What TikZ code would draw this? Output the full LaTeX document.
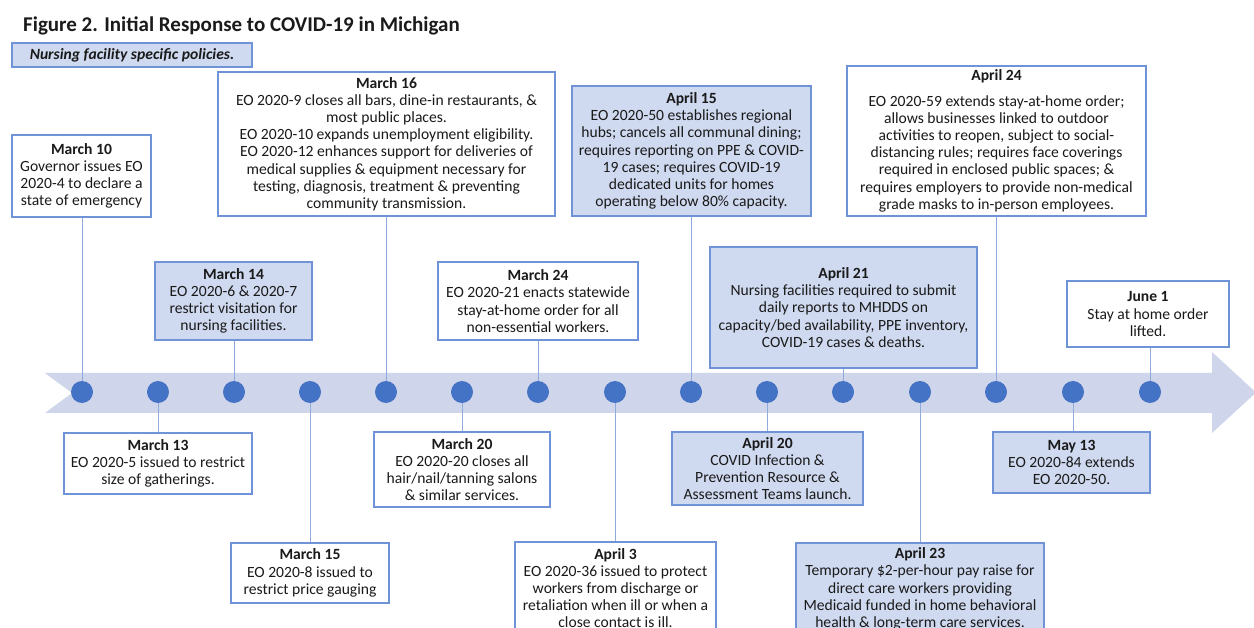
\documentclass[tikz,border=0pt]{standalone}
\usepackage{fontspec}
\setmainfont{Carlito}
\definecolor{bord}{HTML}{6F93D6}
\definecolor{conn}{HTML}{8FAADC}
\definecolor{boxfill}{HTML}{CFD9EF}
\definecolor{bandc}{HTML}{CFD5EA}
\definecolor{dotc}{HTML}{4472C4}
\definecolor{txt}{HTML}{1A1A1A}
\tikzset{
  evbox/.style={draw=bord, line width=1.3pt, align=center, inner sep=0pt, font=\fontsize{15.6}{17.2}\selectfont, text=txt},
  nurse/.style={evbox, fill=boxfill},
  plainbox/.style={evbox, fill=white},
  conline/.style={draw=conn, line width=1pt},
  tdot/.style={circle, fill=dotc, minimum size=22pt, inner sep=0pt},
}
\newcommand\Ebox[7]{\node[#2, minimum width={#5-#3}, minimum height={#6-#4}] (#1) at ({(#3+#5)/2},{(#4+#6)/2}) {#7};}
\begin{document}
\begin{tikzpicture}[x=1pt,y=-1pt]
\clip (0,0) rectangle (1254,628);
\fill[white] (0,0) rectangle (1254,628);
% title
\node[anchor=base west, font=\fontsize{21}{24}\selectfont\bfseries, text=txt, inner sep=0pt] (title) at (23,31.5) {Figure 2. Initial Response to COVID-19 in Michigan};
\Ebox{legend}{nurse}{12}{43}{252}{67}{\bfseries\itshape Nursing facility specific policies.}
% band arrow
\fill[bandc] (45,373) -- (1212,373) -- (1212,352) -- (1256,392.5) -- (1212,433) -- (1212,413) -- (45,413) -- (72,393) -- cycle;
% dot positions
\foreach \i/\x in {0/82,1/158,2/234,3/310,4/386,5/462,6/538,7/615,8/691,9/767,10/843,11/920,12/996,13/1073,14/1150}
  \coordinate (p\i) at (\x,392);
% boxes above
\Ebox{m10}{plainbox}{12}{135}{151}{217}{\textbf{March 10}\\Governor issues EO\\2020-4 to declare a\\state of emergency}
\Ebox{m16}{plainbox}{218}{72}{555}{216}{\textbf{March 16}\\EO 2020-9 closes all bars, dine-in restaurants, \&\\most public places.\\EO 2020-10 expands unemployment eligibility.\\EO 2020-12 enhances support for deliveries of\\medical supplies \& equipment necessary for\\testing, diagnosis, treatment \& preventing\\community transmission.}
\Ebox{m14}{nurse}{155}{262}{312}{340}{\textbf{March 14}\\EO 2020-6 \& 2020-7\\restrict visitation for\\nursing facilities.}
\Ebox{m24}{plainbox}{438}{262}{638}{340}{\textbf{March 24}\\EO 2020-21 enacts statewide\\stay-at-home order for all\\non-essential workers.}
\Ebox{a15}{nurse}{572}{86}{811}{216}{\textbf{April 15}\\EO 2020-50 establishes regional\\hubs; cancels all communal dining;\\requires reporting on PPE \& COVID-\\19 cases; requires COVID-19\\dedicated units for homes\\operating below 80\% capacity.}
\Ebox{a24}{plainbox}{847}{66}{1146}{216}{\textbf{April 24}\\[8pt]EO 2020-59 extends stay-at-home order;\\allows businesses linked to outdoor\\activities to reopen, subject to social-\\distancing rules; requires face coverings\\required in enclosed public spaces; \&\\requires employers to provide non-medical\\grade masks to in-person employees.}
\Ebox{a21}{nurse}{710}{247}{977}{368}{\textbf{April 21}\\Nursing facilities required to submit\\daily reports to MHDDS on\\capacity/bed availability, PPE inventory,\\COVID-19 cases \& deaths.}
\Ebox{j1}{plainbox}{1067}{281}{1229}{347}{\textbf{June 1}\\Stay at home order\\lifted.}
% boxes below
\Ebox{m13}{plainbox}{64}{433}{252}{494}{\textbf{March 13}\\EO 2020-5 issued to restrict\\size of gatherings.}
\Ebox{m20}{plainbox}{374}{432}{550}{507}{\textbf{March 20}\\EO 2020-20 closes all\\hair/nail/tanning salons\\\& similar services.}
\Ebox{m15}{plainbox}{231}{543}{389}{603}{\textbf{March 15}\\EO 2020-8 issued to\\restrict price gauging}
\Ebox{a3}{plainbox}{515}{542}{716}{634}{\textbf{April 3}\\EO 2020-36 issued to protect\\workers from discharge or\\retaliation when ill or when a\\close contact is ill.}
\Ebox{a20}{nurse}{672}{432}{863}{505}{\textbf{April 20}\\COVID Infection \&\\Prevention Resource \&\\Assessment Teams launch.}
\Ebox{a23}{nurse}{796}{543}{1044}{635}{\textbf{April 23}\\Temporary \$2-per-hour pay raise for\\direct care workers providing\\Medicaid funded in home behavioral\\health \& long-term care services.}
\Ebox{y13}{nurse}{993}{432}{1150}{493}{\textbf{May 13}\\EO 2020-84 extends\\EO 2020-50.}
% connectors
\foreach \i/\b/\a in {0/m10/south,2/m14/south,4/m16/south,6/m24/south,8/a15/south,10/a21/south,12/a24/south,14/j1/south,
                      1/m13/north,3/m15/north,5/m20/north,7/a3/north,9/a20/north,11/a23/north,13/y13/north}
  \draw[conline] (p\i) -- (p\i |- \b.\a);
% dots
\foreach \i in {0,...,14}
  \node[tdot] (d\i) at (p\i) {};
\end{tikzpicture}
\end{document}
